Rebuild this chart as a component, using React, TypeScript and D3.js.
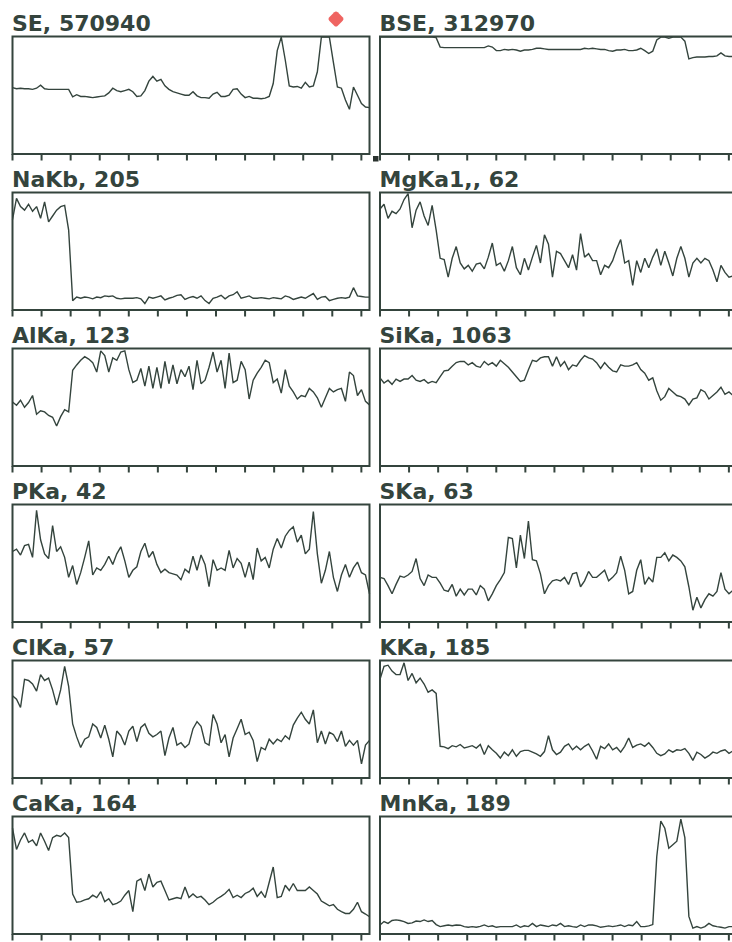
import React from "react";
import * as d3 from "d3";

// Line-scan panels (values as % of panel height, evenly spaced along the scan)
const panelTitles = [
  "SE, 570940", "BSE, 312970",
  "NaKb, 205", "MgKa1,, 62",
  "AlKa, 123", "SiKa, 1063",
  "PKa, 42", "SKa, 63",
  "ClKa, 57", "KKa, 185",
  "CaKa, 164", "MnKa, 189",
];

const seValues = [56.5,55.5,56,55.5,55.5,55,56,58.5,55.5,55,55,55,55,55,55,48.6,50.5,49,49,48.5,48,48.5,49,49.5,52,56,54,53,54,55,53,49,49.5,54,62,66,62,63.5,58,55,53,52,51,50,50,53,49.5,48,48,47.5,51,52.5,49,49,50,55,55.5,51,48,49,47.5,47.5,47,47.5,49,60,88,99.5,80,58,57,57.5,56,61,57,58,70,99.5,99.5,99.5,78,57,56,46,38,57,50,43,40,39.5];
const bseValues = [99.5,99.5,99.5,99.5,99.5,99.5,99.5,99.5,99.5,99.5,99.5,99.5,99.5,99.5,99,91,90.5,90.5,90.5,90.5,90.5,90.5,90.5,90.5,90.5,90.5,90.5,92,91,88,88,89,88.5,89,88.5,87.5,88.5,88.5,89,90,90,89.5,89,89,89,89,89,89,89,89,89,90,89.5,90,89.5,89,89,88,87.5,88.5,88.5,89,88,88,88.5,90,88,85.5,87.5,97,99.5,99.5,98.5,99.5,99.5,99.5,96,81,82,82.5,82.5,82.5,83,83,83.5,86,83.5,83,83,83];
const naValues = [77,95,88,85,90,84,88,78,92,75,80,85,88,89,68,8,11,10,11,10.5,9.5,11,10.5,12,11.5,12,10,9.5,10,10,10,10.5,9.5,5.5,11,10,11,12,8.5,10,11,12.5,13,9,10.5,11.5,10,12,8,5.5,10,11,12.5,9.5,12,13,15.5,10,11,12,10,10,10.5,10,9.5,10.5,10,9.5,12,11,9,10,11,10,12,14,9,11,11.5,8,9,10,10.5,10,11,19,12,11.5,11,11];
const mgValues = [86,90,78,84,82,86,94,99,70,85,92,80,72,89,68,44,43,28,44,54,40,35,38,33,39,40,35,45,57,38,40,33,42,54,36,30,44,34,45,55,40,64,56,28,50,48,42,36,47,34,65,45,48,42,42,30,38,36,42,52,60,40,42,21,42,32,44,36,45,52,38,50,40,29,44,54,44,28,40,44,40,44,42,34,24,38,32,28,29,30];
const alValues = [54.5,51.7,56,50,54,60,44,47,46,43,41.5,34,42,48,46,81.5,86,90,93,91,88,80,98,94,80,92,90,97,98,82,71,73,83,68,85,66,84,66,89,70,86,70,82,76,85,65,90,70,73,84,97,80,90,66,96,71,73,89,82,57,73,79,84,90,88,71,74,62,82,68,63,57,60,59,66,63,58,50,58,66,63,65,66,55,80,77,60,65,55,52];
const siValues = [75,70.6,73,69.5,74,72,74,74,77,73,72,73.5,70.5,72,71,76,81,81.5,84.9,88,89,89,86,88,85,84,89,86,88,85,90,87,84,80,76,72,73,82,90,89,92,93,93,85,93,85,89,82,86,85,90,94,92,91,88,83,88,84,81,80,86,85,85,86,88,82,79,73,75,64,56,59,66,63,60,59,57,52,57,58,65,63,57,60,63,67,61,63,60,60];
const pValues = [60,62,57,65,66,55,95,70,58,54,82,60,64,55,38,48,32,42,55,69,40,46,44,49,56,49,58,64,52,38,44,47,60,67,55,60,49,42,45,42,41,40,36,45,42,56,44,57,49,30,53,44,46,44,61,46,54,50,38,51,36,63,52,55,46,62,71,63,73,78,81,68,74,58,62,94,58,33,44,60,38,26,40,49,38,46,51,42,40,24];
const sValues = [38,37,31,24,32,39,38,40,43,54,37,31,40,38,38,33,27,26,32,22,28,23,28,28,23,31,28,18,24,31,36,42,72,71,46,74,54,86,53,52,41,24,31,35,36,35,38,32,41,42,30,35,43,38,38,41,44,35,38,42,56,44,24,26,44,53,32,38,34,55,55,59,52,57,55,52,47,30,10,21,12,19,24,22,26,42,28,24,27,27];
const clValues = [70,67,60,84,83,80,74,88,83,85,75,62,75,95,78,46,35,26,33,35,46,43,34,45,33,18,40,36,28,40,44,31,43,46,38,35,37,40,19,34,43,28,30,26,29,42,48,44,30,28,54,46,30,37,18,34,42,50,37,39,32,14,26,24,33,29,33,31,36,33,45,51,56,50,46,58,30,40,29,39,37,31,40,27,32,28,32,12,28,32];
const kValues = [84,95,96,91,88,88,98,83,89,81,85,80,73,75,72,27,26.5,25,27.5,26.5,28.5,25.5,26.5,27.5,25.5,28.5,20,27.5,24,21,17,22,19,24,18.5,22.5,23.5,23.5,22,20.5,18.5,22.5,36,24,20,22,27,29,24,27,24,27,29,23,16,27,25,29,24,26,22,27,34,26,28,29,27,30,26,21,19,20.5,24,22,24,23.5,25,21,15,22,20,17,19,22,21,23,24,21,23,23];
const caValues = [90,72,80,86,78,80,75,86,79,71,82,84,83,86,82,34,27,27.5,29,30,33,31,36,27.5,30,25,26,28,33,37,19,45,47,37,51,40,44,45,37,29,30,31,30,40,31,34,31,32,29,25,27,30,32,34.5,38,31,33,31,34.5,36,39,32,36,31,44,57,31,32,41.5,37,43,37,37,37,40,37,34,28,26,24,25,21,19,17.5,17.5,21,27,19,17,14.7];
const mnValues = [7.7,10.6,9,11.5,12,11.5,10.6,9,9.5,11,10.6,12,10.6,11.5,8,6.3,7,7.7,7,7.7,7.5,6.3,5.7,6.3,5.7,6.5,7.7,6.3,7,5.7,6.3,6.3,6.3,6.3,7.7,5.7,7,6.3,9,6.3,7.7,7,6.3,7.7,7,9,6.3,7,6.3,5.7,7.7,6.3,7.7,7.7,6.9,5.7,6.3,6.9,6.3,6.9,7.7,6.3,7.7,7,10.6,6.3,6.3,6.9,8,66,96,90,73,76,79,97.7,82,15,5,6.3,5,6.3,9,7,6.3,5.7,5,6.3,6.3,6];

const seriesValues = [
  seValues, bseValues, naValues, mgValues, alValues, siValues,
  pValues, sValues, clValues, kValues, caValues, mnValues,
];

// Distance ticks along the scan
const scanLength = 12.28;
const distanceTicks = [0, 1, 2, 3, 4, 5, 6, 7, 8, 9, 10, 11, 12];

const INK = "#34443d";
const W = 732;
const H = 942;
const colLeft = [12.5, 380];
const boxW = 357;
const boxH = 117.5;
const rowTop0 = 36.5;
const rowPitch = 156;

export default function App() {
  const panels = panelTitles.map((title, i) => {
    const col = i % 2;
    const row = Math.floor(i / 2);
    const left = colLeft[col];
    const top = rowTop0 + row * rowPitch;
    const bottom = top + boxH;
    const values = seriesValues[i];
    const x = d3.scaleLinear().domain([0, values.length - 1]).range([left, left + boxW]);
    const xd = d3.scaleLinear().domain([0, scanLength]).range([left, left + boxW]);
    const y = d3.scaleLinear().domain([0, 100]).range([bottom, top]);
    const line = d3
      .line<number>()
      .x((_, k) => x(k))
      .y((d) => y(d))
      .curve(d3.curveLinear);
    return (
      <g key={title}>
        <text
          x={left - 0.5}
          y={top - 5.5}
          fontFamily="DejaVu Sans, sans-serif"
          fontWeight="bold"
          fontSize={22}
          fill={INK}
        >
          {title}
        </text>
        <rect
          x={left}
          y={top}
          width={boxW}
          height={boxH}
          fill="none"
          stroke={INK}
          strokeWidth={2}
        />
        {distanceTicks.map((t) => (
          <line
            key={t}
            x1={xd(t)}
            x2={xd(t)}
            y1={bottom}
            y2={bottom + 6.5}
            stroke={INK}
            strokeWidth={2}
          />
        ))}
        <path
          d={line(values) || ""}
          fill="none"
          stroke={INK}
          strokeWidth={1.4}
          strokeLinejoin="miter"
          strokeMiterlimit={2}
        />
      </g>
    );
  });

  return (
    <svg
      width={W}
      height={H}
      style={{ position: "absolute", left: 0, top: 0, background: "#fff" }}
    >
      <rect x={0} y={0} width={W} height={H} fill="#fff" />
      {panels}
      <rect x={373} y={156} width={5.5} height={5.5} fill="#2a332f" />
      <rect
        x={330}
        y={13}
        width={12}
        height={12}
        rx={2.5}
        fill="#ef6461"
        transform="rotate(45 336 19)"
      />
    </svg>
  );
}
